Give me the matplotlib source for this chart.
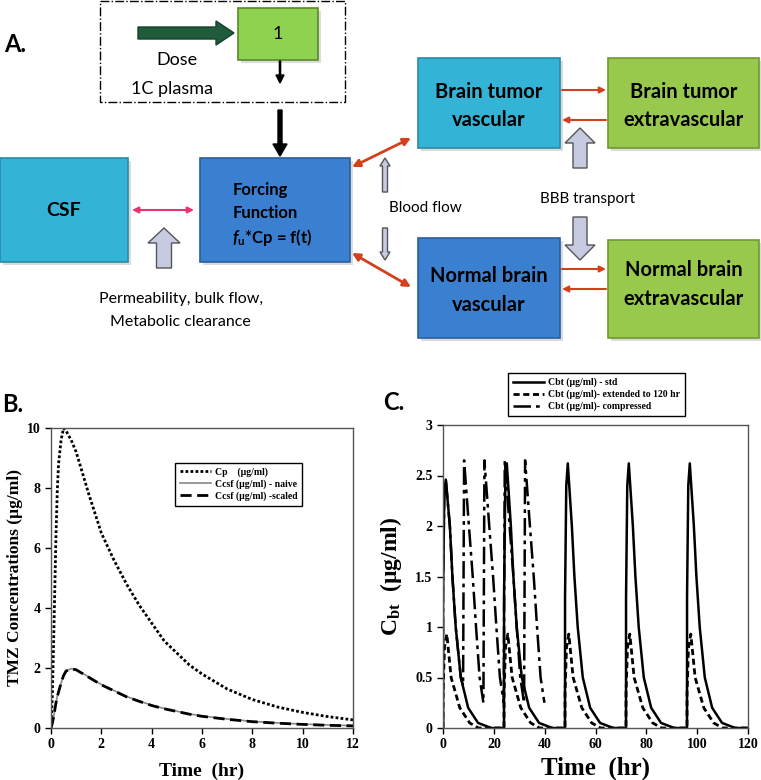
import matplotlib
matplotlib.use("Agg")
import matplotlib.pyplot as plt
import matplotlib.patches as mpatches
import numpy as np

plt.rcParams['font.family'] = 'Liberation Serif'
plt.rcParams['font.weight'] = 'bold'
plt.rcParams['mathtext.fontset'] = 'custom'
plt.rcParams['mathtext.rm'] = 'Liberation Serif:bold'
plt.rcParams['mathtext.it'] = 'Lato:italic:bold'
plt.rcParams['mathtext.bf'] = 'Lato:bold'

# ---- panel B data ----
t_b = [0, 0.05, 0.1, 0.15, 0.2, 0.25, 0.3, 0.4, 0.5, 0.6, 0.8, 1.0, 1.5, 2.0, 2.5,
       3.0, 3.5, 4.0, 4.5, 5.0, 5.5, 6.0, 7.0, 8.0, 9.0, 10.0, 11.0, 12.0]
cp = [0, 1.0, 2.7, 4.6, 6.5, 7.9, 8.8, 9.6, 10.0, 9.9, 9.6, 9.2, 7.8, 6.5, 5.6,
      4.8, 4.1, 3.5, 2.9, 2.5, 2.1, 1.8, 1.3, 0.95, 0.7, 0.52, 0.38, 0.27]
ccsf_naive = [0, 0.15, 0.35, 0.6, 0.85, 1.05, 1.2, 1.5, 1.75, 1.9, 1.98, 1.95, 1.7, 1.45, 1.25,
              1.05, 0.9, 0.76, 0.65, 0.56, 0.47, 0.4, 0.3, 0.22, 0.17, 0.13, 0.1, 0.08]
ccsf_scaled = [0, 0.15, 0.35, 0.6, 0.85, 1.05, 1.2, 1.5, 1.75, 1.9, 1.97, 1.94, 1.69, 1.44, 1.24,
               1.04, 0.89, 0.75, 0.64, 0.55, 0.46, 0.39, 0.29, 0.21, 0.16, 0.12, 0.09, 0.07]
legend_b = ["Cp    (\u00b5g/ml)", "Ccsf (\u00b5g/ml) - naive", "Ccsf (\u00b5g/ml) -scaled"]

# ---- panel C data (single-dose profiles, hours after each dose) ----
std_doses = [0, 24, 48, 72, 96]
std_rel_t = [0, 0.02, 0.5, 1.1, 2.7, 3.7, 5.0, 7.0, 9.9, 13.8, 19.0, 24.0]
std_first_c = [0, 1.3, 2.3, 2.46, 2.0, 1.5, 1.0, 0.5, 0.2, 0.05, 0.0, 0.0]
std_c = [0, 1.3, 2.4, 2.62, 2.0, 1.5, 1.0, 0.5, 0.2, 0.05, 0.0, 0.0]

ext_doses = [0, 24, 48, 72, 96]
ext_rel_t = [0, 0.02, 0.6, 1.5, 3.2, 6.6, 10.5, 14.0, 24.0]
ext_c = [0, 0.35, 0.8, 0.93, 0.5, 0.2, 0.05, 0.0, 0.0]

comp_first_t = [0, 0.02, 0.5, 1.1, 2.7, 3.7, 5.0, 7.0, 7.9]
comp_first_c = [0, 1.45, 2.3, 2.46, 2.0, 1.5, 1.0, 0.5, 0.42]
comp_doses = [8, 16, 24, 32]
comp_rel_t = [0.3, 2.2, 3.7, 5.0, 6.4, 7.9]
comp_c = [2.65, 2.0, 1.5, 1.0, 0.5, 0.25]

legend_c = ["Cbt (\u00b5g/ml) - std", "Cbt (\u00b5g/ml)- extended to 120 hr", "Cbt (\u00b5g/ml)- compressed"]


def dosed(doses, rel_t, rel_c, first_c=None):
    tt, cc = [], []
    for i, d in enumerate(doses):
        vals = first_c if (i == 0 and first_c is not None) else rel_c
        tt += [d + r for r in rel_t]
        cc += list(vals)
    return tt, cc


fig = plt.figure(figsize=(7.61, 7.80), dpi=100)

# ---------------- panel A: diagram in pixel coordinates ----------------
ax0 = fig.add_axes([0, 0, 1, 1])
ax0.set_xlim(0, 761)
ax0.set_ylim(780, 0)
ax0.axis('off')

SANS = 'Lato'
CYAN = '#33b4d6'
BLUE = '#3b80d0'
GREEN = '#98c94c'
RED = '#d2401c'


def box(x0, y0, x1, y1, color, edge):
    ax0.add_patch(mpatches.Rectangle((x0 + 3, y0 + 3), x1 - x0, y1 - y0,
                                     fc='#999999', ec='none', alpha=0.35))
    ax0.add_patch(mpatches.Rectangle((x0, y0), x1 - x0, y1 - y0, fc=color, ec=edge, lw=1.2))


def label(x, y, s, size=12, weight='bold', ha='center'):
    ax0.text(x, y, s, fontsize=size, fontweight=weight, family=SANS, ha=ha, va='center')


def fat_arrow(x, y0, y1, w=14, hw=30, hl=15):
    ax0.add_patch(mpatches.FancyArrow(x, y0, 0, y1 - y0, width=w, head_width=hw, head_length=hl,
                                      length_includes_head=True, fc='#c7cbe2', ec='#555555', lw=1))


def line_arrow(p0, p1, color, style='-|>', lw=1.6, ms=12):
    ax0.annotate('', xy=p1, xytext=p0,
                 arrowprops=dict(arrowstyle=style, color=color, lw=lw, mutation_scale=ms,
                                 shrinkA=0, shrinkB=0))


# dosing compartment
ax0.add_patch(mpatches.Rectangle((100, 1), 245, 101, fc='none', ec='black', lw=1, ls='-.'))
ax0.add_patch(mpatches.FancyArrow(138, 33, 96, 0, width=12, head_width=24, head_length=18,
                                  length_includes_head=True, fc='#1f5c3b', ec='#173f2a', lw=1))
box(238, 8, 318, 60, '#8fd150', '#5a8a2a')
label(278, 34, '1', size=13, weight='normal')
label(177, 60, 'Dose', size=13, weight='normal')
label(172, 89, '1C plasma', size=13, weight='normal')
ax0.add_patch(mpatches.FancyArrow(280, 61, 0, 22, width=1.2, head_width=8, head_length=8,
                                  length_includes_head=True, fc='black', ec='black'))
ax0.add_patch(mpatches.FancyArrow(280, 110, 0, 46, width=4, head_width=14, head_length=12,
                                  length_includes_head=True, fc='black', ec='black'))
ax0.text(4, 45, 'A.', fontsize=17, fontweight='bold', family=SANS, ha='left', va='center')

# CSF and forcing function
box(0, 158, 128, 262, CYAN, '#2a8aa6')
label(64, 210, 'CSF', size=14)
box(200, 158, 350, 262, BLUE, '#2a5f9e')
label(233, 190, 'Forcing', size=12, ha='left')
label(233, 213, 'Function', size=12, ha='left')
label(232, 238, r'$f_{\mathbf{u}}$*Cp = f(t)', size=12, ha='left')
line_arrow((132, 210), (194, 210), '#e8336e', style='<|-|>', lw=1.5, ms=9)
fat_arrow(164, 268, 228, w=15, hw=32, hl=15)
label(181, 299, 'Permeability, bulk flow,', size=11.5, weight='normal')
label(180, 322, 'Metabolic clearance', size=11.5, weight='normal')

# blood flow links
line_arrow((352, 167), (411, 138), RED, style='<|-|>', lw=2, ms=11)
line_arrow((352, 253), (411, 287), RED, style='<|-|>', lw=2, ms=11)
fat_arrow(385, 192, 158, w=5, hw=10, hl=8)
fat_arrow(385, 228, 260, w=5, hw=10, hl=8)
label(425, 208, 'Blood flow', size=11, weight='normal')

# brain compartments
box(418, 58, 560, 148, CYAN, '#2a8aa6')
label(489, 92, 'Brain tumor', size=14.5)
label(489, 120, 'vascular', size=14.5)
box(608, 58, 759, 148, GREEN, '#6f9a30')
label(684, 92, 'Brain tumor', size=14.5)
label(684, 120, 'extravascular', size=14.5)
box(418, 238, 560, 338, BLUE, '#2a5f9e')
label(489, 276, 'Normal brain', size=14.5)
label(489, 305, 'vascular', size=14.5)
box(608, 240, 759, 338, GREEN, '#6f9a30')
label(684, 270, 'Normal brain', size=14.5)
label(684, 299, 'extravascular', size=14.5)

line_arrow((562, 90), (606, 90), RED, lw=1.5, ms=9)
line_arrow((606, 120), (562, 120), RED, lw=1.5, ms=9)
line_arrow((562, 269), (606, 269), RED, lw=1.5, ms=9)
line_arrow((606, 289), (562, 289), RED, lw=1.5, ms=9)
fat_arrow(580, 168, 128)
fat_arrow(580, 217, 260)
label(588, 199, 'BBB transport', size=11, weight='normal')

ax0.text(2, 405, 'B.', fontsize=17, fontweight='bold', family=SANS, ha='left', va='center')
ax0.text(383, 403, 'C.', fontsize=17, fontweight='bold', family=SANS, ha='left', va='center')

# ---------------- panel B ----------------
W, H = 761.0, 780.0
axb = fig.add_axes([51 / W, (780 - 728) / H, 302 / W, 300 / H])
axb.plot(t_b, cp, color='black', ls=(0, (1, 0.8)), lw=2, label=legend_b[0])
axb.plot(t_b, ccsf_naive, color='#888888', ls='-', lw=1.2, label=legend_b[1])
axb.plot(t_b, ccsf_scaled, color='black', ls=(0, (4, 2)), lw=2, label=legend_b[2])
axb.set_xlim(0, 12)
axb.set_ylim(0, 10)
axb.set_xticks(np.arange(0, 13, 2))
axb.set_yticks(np.arange(0, 11, 2))
axb.set_xlabel('Time  (hr)', fontsize=14, fontweight='bold', labelpad=8)
axb.set_ylabel('TMZ Concentrations (\u00b5g/ml)', fontsize=12.5, fontweight='bold', labelpad=3)
axb.legend(loc='upper left', bbox_to_anchor=(0.41, 0.885), fontsize=7, frameon=True,
           fancybox=False, edgecolor='black', framealpha=1, handlelength=3.2,
           borderpad=0.5, labelspacing=0.25, handletextpad=0.4, borderaxespad=0)

# ---------------- panel C ----------------
axc = fig.add_axes([443 / W, (780 - 728) / H, 305 / W, 303 / H])
ct, cc = dosed(comp_doses, comp_rel_t, comp_c)
axc.plot(comp_first_t + ct, comp_first_c + cc, color='black', ls=(0, (7, 2, 1.5, 2)), lw=1.8,
         label=legend_c[2])
et, ec = dosed(ext_doses, ext_rel_t, ext_c)
axc.plot(et, ec, color='black', ls=(0, (2.2, 1.3)), lw=2, label=legend_c[1])
st, sc = dosed(std_doses, std_rel_t, std_c, std_first_c)
axc.plot(st, sc, color='black', ls='-', lw=1.8, label=legend_c[0])
axc.set_xlim(0, 120)
axc.set_ylim(0, 3)
axc.set_xticks(np.arange(0, 121, 20))
axc.set_yticks(np.arange(0, 3.01, 0.5))
axc.set_yticklabels(['0', '0.5', '1', '1.5', '2', '2.5', '3'])
axc.set_xlabel('Time  (hr)', fontsize=18, fontweight='bold', labelpad=4)
axc.set_ylabel('$\\mathrm{C_{bt}}$  (\u00b5g/ml)', fontsize=17, fontweight='bold', labelpad=8)
handles, labels = axc.get_legend_handles_labels()
axc.legend(handles[::-1], labels[::-1], loc='upper left', bbox_to_anchor=(0.213, 1.172),
           fontsize=7, frameon=True, fancybox=False, edgecolor='black', framealpha=1,
           handlelength=3.2, borderpad=0.5, labelspacing=0.25, handletextpad=0.4, borderaxespad=0)

for ax in (axb, axc):
    ax.tick_params(direction='out', length=4, width=1, labelsize=10)
    for lab in ax.get_xticklabels() + ax.get_yticklabels():
        lab.set_fontweight('bold')
    for sp in ax.spines.values():
        sp.set_color('#555555')
        sp.set_linewidth(1)

fig.savefig('out.png', dpi=100)
